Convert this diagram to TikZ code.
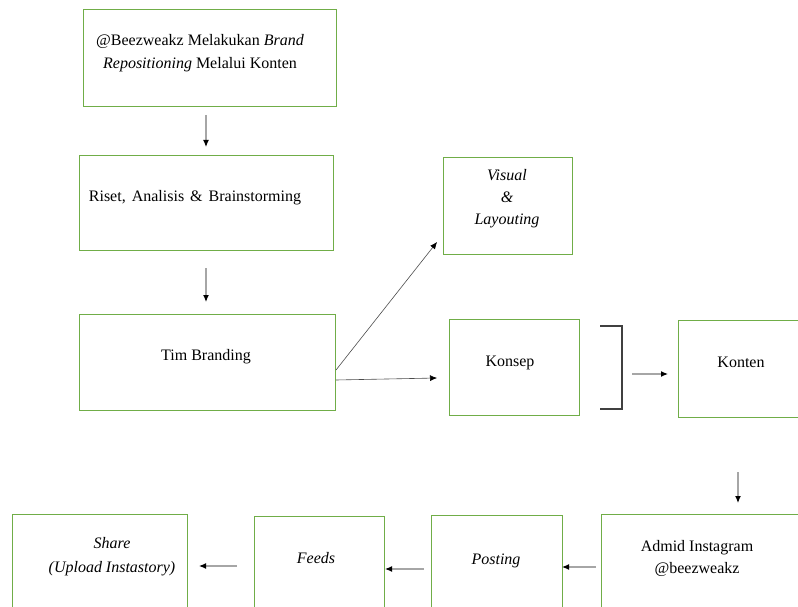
\documentclass[tikz,border=0pt]{standalone}
\usepackage{fontspec}
\setmainfont{Liberation Serif}
\usetikzlibrary{arrows.meta}
\definecolor{boxgreen}{HTML}{70AD47}
\tikzset{
  box/.style={draw=boxgreen, line width=1.2pt, minimum width=#1, inner sep=0pt, anchor=north west},
  flow/.style={draw=gray!70, line width=1.2pt, -{Latex[length=7pt,width=6pt,black]}},
  thin flow/.style={draw=black!70, line width=0.6pt, -{Latex[length=7pt,width=6pt,black]}},
  lbl/.style={font=\fontsize{16}{22}\selectfont, inner sep=0pt, align=center}
}
\begin{document}
\begin{tikzpicture}[x=1pt,y=-1pt]
\useasboundingbox (0,0) rectangle (798,607);
\clip (0,0) rectangle (798,607);
% boxes
\node[box=253pt, minimum height=97pt] (b0) at (83,9){};
\node[box=254pt, minimum height=95pt] (b1) at (79,155){};
\node[box=256pt, minimum height=96pt] (b2) at (79,314){};
\node[box=129pt, minimum height=97pt] (b3) at (443,157){};
\node[box=130pt, minimum height=96pt] (b4) at (449,319){};
\node[box=132pt, minimum height=97pt] (b5) at (678,320){};
\node[box=210pt, minimum height=100pt] (b6) at (601,514){};
\node[box=131pt, minimum height=100pt] (b7) at (431,515){};
\node[box=130pt, minimum height=100pt] (b8) at (254,516){};
\node[box=175pt, minimum height=100pt] (b9) at (12,514){};
% labels
\node[lbl] (t0) at (200,53) {@Beezweakz Melakukan \textit{Brand}\\[1pt]\textit{Repositioning} Melalui Konten};
\node[lbl] (t1) at (195,198) {Riset,\hspace{6pt}Analisis\hspace{6pt}\&\hspace{6pt}Brainstorming};
\node[lbl] (t2) at (206,357) {Tim Branding};
\node[lbl] (t3) at (507,199) {\textit{Visual}\\\textit{\&}\\\textit{Layouting}};
\node[lbl] (t4) at (510,363) {Konsep};
\node[lbl] (t5) at (741,362) {Konten};
\node[lbl] (t6) at (697,558) {Admid Instagram\\@beezweakz};
\node[lbl] (t7) at (496,561) {\textit{Posting}};
\node[lbl] (t8) at (316,558) {\textit{Feeds}};
\node[lbl] (t9) at (112,557) {\textit{Share}\\[2pt]\textit{(Upload Instastory)}};
% bracket
\coordinate (k0) at (600,326);
\coordinate (k1) at (622,326);
\coordinate (k2) at (622,409);
\coordinate (k3) at (600,409);
\draw[black!75, line width=1.2pt] (k0) -- (k1) -- (k2) -- (k3);
% arrow ends
\coordinate (a0) at (206,115);
\coordinate (a1) at (206,147);
\coordinate (a2) at (206,268);
\coordinate (a3) at (206,302);
\coordinate (a4) at (336,370);
\coordinate (a5) at (437,242);
\coordinate (a6) at (336,380);
\coordinate (a7) at (437,378);
\coordinate (a8) at (632,374);
\coordinate (a9) at (668,374);
\coordinate (a10) at (738,472);
\coordinate (a11) at (738,503);
\coordinate (a12) at (596,567);
\coordinate (a13) at (562,567);
\coordinate (a14) at (424,569);
\coordinate (a15) at (385,569);
\coordinate (a16) at (237,566);
\coordinate (a17) at (199,566);
% arrows
\draw[flow] (a0) -- (a1);
\draw[flow] (a2) -- (a3);
\draw[thin flow] (a4) -- (a5);
\draw[thin flow] (a6) -- (a7);
\draw[flow] (a8) -- (a9);
\draw[flow] (a10) -- (a11);
\draw[flow] (a12) -- (a13);
\draw[flow] (a14) -- (a15);
\draw[flow] (a16) -- (a17);
\end{tikzpicture}
\end{document}
